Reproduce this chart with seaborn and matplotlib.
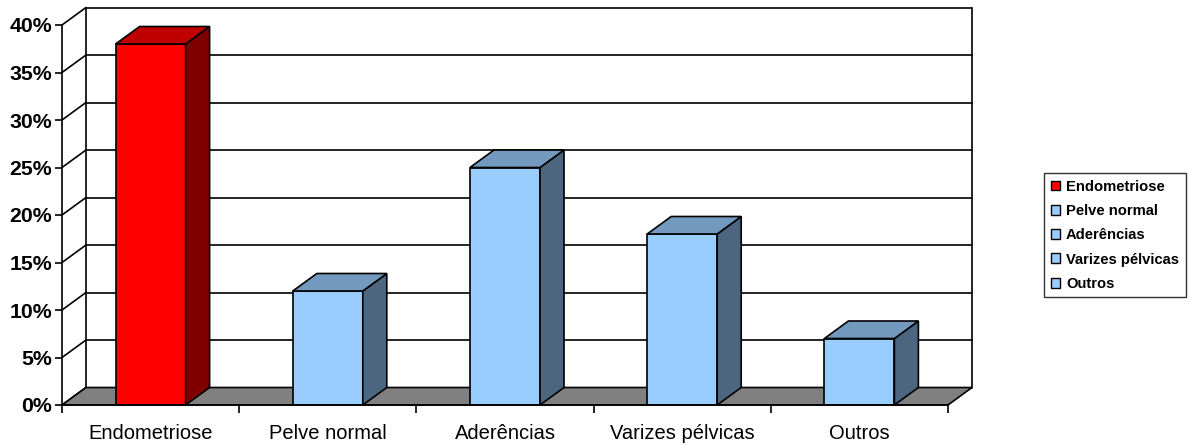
import matplotlib
matplotlib.use("Agg")
import matplotlib.pyplot as plt
from matplotlib.patches import Polygon, Patch
from matplotlib.lines import Line2D
import seaborn as sns
import pandas as pd

categories = ["Endometriose", "Pelve normal", "Aderências", "Varizes pélvicas", "Outros"]
values = [0.38, 0.12, 0.25, 0.18, 0.07]
yticks = [0.0, 0.05, 0.10, 0.15, 0.20, 0.25, 0.30, 0.35, 0.40]
ytick_labels = ["0%", "5%", "10%", "15%", "20%", "25%", "30%", "35%", "40%"]

front_colors = ["#FF0000", "#99CCFF", "#99CCFF", "#99CCFF", "#99CCFF"]
top_colors = ["#C00000", "#7399BF", "#7399BF", "#7399BF", "#7399BF"]
side_colors = ["#800000", "#4C6680", "#4C6680", "#4C6680", "#4C6680"]

sns.set_theme(style="white")
plt.rcParams["font.family"] = ["Liberation Sans", "DejaVu Sans"]
plt.rcParams["text.color"] = "black"
plt.rcParams["xtick.color"] = "black"
plt.rcParams["ytick.color"] = "black"
plt.rcParams["xtick.labelcolor"] = "black"
plt.rcParams["ytick.labelcolor"] = "black"

W, H = 1190, 445
fig = plt.figure(figsize=(W / 100, H / 100), dpi=100)
left_px, right_px, top_px, bot_px = 62, 948, 25, 405
ax = fig.add_axes([left_px / W, 1 - bot_px / H, (right_px - left_px) / W, (bot_px - top_px) / H])

df = pd.DataFrame({"cat": categories, "val": values})
sns.barplot(data=df, x="cat", y="val", hue="cat", palette=front_colors, width=0.395,
            edgecolor="black", linewidth=1.2, legend=False, ax=ax, zorder=5, saturation=1)
bars = list(ax.patches)

ax.set_xlim(-0.5, 4.5)
ax.set_ylim(0, 0.40)

# depth offsets in data units
px_x = 5.0 / (right_px - left_px)
px_y = 0.40 / (bot_px - top_px)
dx = 24 * px_x
dy = 17.5 * px_y

lw = 1.2
# floor
floor = Polygon([(-0.5, 0), (4.5, 0), (4.5 + dx, dy), (-0.5 + dx, dy)], closed=True,
                facecolor="#808080", edgecolor="black", linewidth=lw, zorder=2, clip_on=False)
ax.add_patch(floor)
# back wall gridlines
for v in yticks[1:]:
    ax.add_line(Line2D([-0.5 + dx, 4.5 + dx], [v + dy, v + dy], color="black", lw=lw, zorder=1, clip_on=False))
# left wall diagonals
for v in yticks:
    ax.add_line(Line2D([-0.5, -0.5 + dx], [v, v + dy], color="black", lw=lw, zorder=1, clip_on=False))
# wall verticals
ax.add_line(Line2D([-0.5 + dx, -0.5 + dx], [dy, 0.40 + dy], color="black", lw=lw, zorder=1, clip_on=False))
ax.add_line(Line2D([4.5 + dx, 4.5 + dx], [dy, 0.40 + dy], color="black", lw=lw, zorder=1, clip_on=False))

# 3D faces of bars
for i, p in enumerate(bars):
    x0 = p.get_x()
    w = p.get_width()
    h = p.get_height()
    side = Polygon([(x0 + w, 0), (x0 + w, h), (x0 + w + dx, h + dy), (x0 + w + dx, dy)], closed=True,
                   facecolor=side_colors[i], edgecolor="black", linewidth=lw, zorder=5, clip_on=False)
    top = Polygon([(x0, h), (x0 + w, h), (x0 + w + dx, h + dy), (x0 + dx, h + dy)], closed=True,
                  facecolor=top_colors[i], edgecolor="black", linewidth=lw, zorder=5, clip_on=False)
    ax.add_patch(side)
    ax.add_patch(top)

for s in ["top", "right"]:
    ax.spines[s].set_visible(False)
for s in ["left", "bottom"]:
    ax.spines[s].set_color("black")
    ax.spines[s].set_linewidth(lw)
    ax.spines[s].set_zorder(6)

ax.set_yticks(yticks)
ax.set_yticklabels(ytick_labels, fontsize=15.3, fontweight="bold", color="black")
ax.tick_params(axis="y", direction="out", length=5, width=lw, color="black", pad=2, left=True)
ax.set_xticks(range(len(categories)))
ax.set_xticklabels(categories, fontsize=14.5, color="black")
ax.tick_params(axis="x", which="major", length=0, pad=14)
ax.set_xticks([-0.5 + k for k in range(6)], minor=True)
ax.tick_params(axis="x", which="minor", direction="out", length=6, width=lw, color="black", bottom=True)
ax.set_xlabel("")
ax.set_ylabel("")
ax.grid(False)
ax.set_facecolor("white")

handles = [Patch(facecolor=c, edgecolor="black", linewidth=1) for c in front_colors]
leg = fig.legend(handles, categories, loc="upper left", bbox_to_anchor=(1044 / W, 1 - 173 / H),
                 prop={"size": 10.6, "weight": "bold"}, frameon=True, fancybox=False,
                 handlelength=0.65, handleheight=0.65, handletextpad=0.4, labelspacing=0.7,
                 borderpad=0.45, borderaxespad=0, labelcolor="black")
leg.get_frame().set_edgecolor("black")
leg.get_frame().set_linewidth(1)

fig.savefig("out.png", dpi=100)
